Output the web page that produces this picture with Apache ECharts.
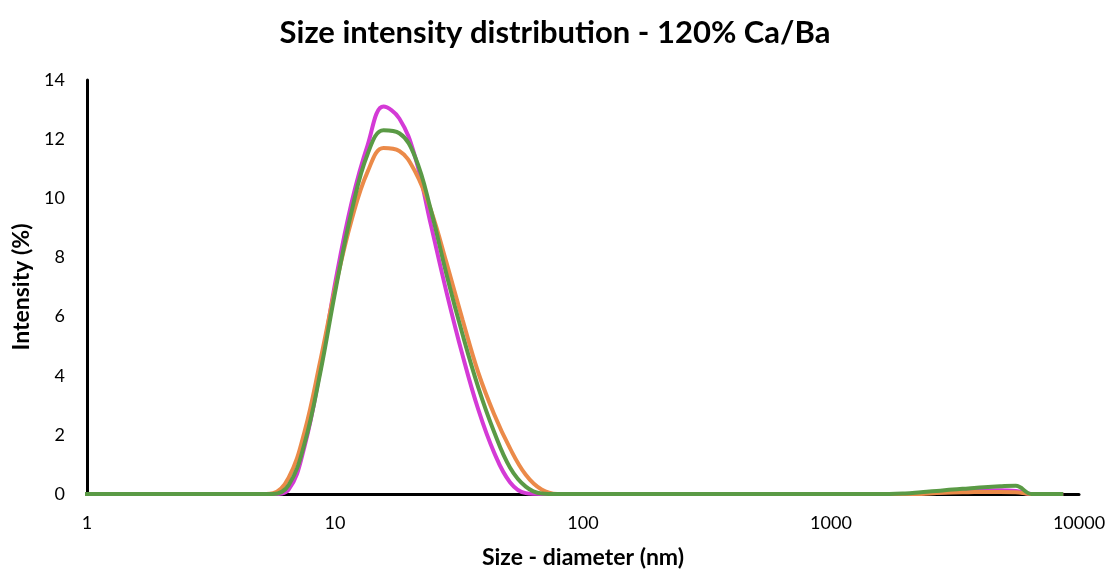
<!DOCTYPE html>
<html>
<head>
<meta charset="utf-8">
<script src="https://cdn.jsdelivr.net/npm/echarts@6/dist/echarts.min.js"></script>
<style>
html,body{margin:0;padding:0;background:#fff;}
#chart{width:1110px;height:569px;}
</style>
</head>
<body>
<div id="chart"></div>
<script>
// Size bins (nm)
const sizes = [0.9649, 1.117, 1.294, 1.499, 1.736, 2.01, 2.328, 2.696, 3.122, 3.615,
  4.187, 4.849, 5.615, 6.503, 7.531, 8.721, 10.1, 11.7, 13.54, 15.69,
  18.17, 21.04, 24.36, 28.21, 32.67, 37.84, 43.82, 50.75, 58.77, 68.06,
  78.82, 91.28, 105.7, 122.4, 141.8, 164.2, 190.1, 220.2, 255.0, 295.3,
  342.0, 396.1, 458.7, 531.2, 615.1, 712.4, 825.0, 955.4, 1106, 1281,
  1484, 1718, 1990, 2305, 2669, 3091, 3580, 4145, 4801, 5560,
  6439, 7456, 8635];

// Intensity (%) per bin
const magenta = [0, 0, 0, 0, 0, 0, 0, 0, 0, 0,
  0, 0, 0, 0.15, 1.6, 4.2, 7.3, 9.9, 11.8, 13.1,
  12.7, 11.4, 9.1, 6.8, 4.7, 2.85, 1.4, 0.4, 0.03, 0,
  0, 0, 0, 0, 0, 0, 0, 0, 0, 0,
  0, 0, 0, 0, 0, 0, 0, 0, 0, 0,
  0, 0, 0, 0.02, 0.05, 0.08, 0.1, 0.12, 0.13, 0.1,
  0, 0, 0];

const orange = [0, 0, 0, 0, 0, 0, 0, 0, 0, 0,
  0, 0, 0.03, 0.55, 2.1, 4.5, 7.1, 9.3, 10.9, 11.7,
  11.6, 10.9, 9.6, 7.8, 5.9, 4.1, 2.7, 1.55, 0.65, 0.15,
  0, 0, 0, 0, 0, 0, 0, 0, 0, 0,
  0, 0, 0, 0, 0, 0, 0, 0, 0, 0,
  0, 0, 0, 0, 0.03, 0.05, 0.06, 0.07, 0.07, 0.06,
  0, 0, 0];

const green = [0, 0, 0, 0, 0, 0, 0, 0, 0, 0,
  0, 0, 0, 0.3, 1.7, 4.1, 7.0, 9.6, 11.5, 12.3,
  12.2, 11.4, 9.6, 7.4, 5.4, 3.6, 2.1, 0.9, 0.25, 0.02,
  0, 0, 0, 0, 0, 0, 0, 0, 0, 0,
  0, 0, 0, 0, 0, 0, 0, 0, 0, 0,
  0, 0, 0.02, 0.06, 0.1, 0.15, 0.19, 0.23, 0.26, 0.28,
  0, 0, 0];

const yTicks = [0, 2, 4, 6, 8, 10, 12, 14];
const xTicks = [1, 10, 100, 1000, 10000];

const pairs = arr => sizes.map((s, i) => [s, arr[i]]);
const FONT = 'Lato';

const chart = echarts.init(document.getElementById('chart'), null, {renderer: 'canvas'});
const mkSeries = (name, data, color) => ({
  name, type: 'line', data: pairs(data), smooth: 0.4, showSymbol: false,
  lineStyle: {color, width: 4}, itemStyle: {color}, clip: true, animation: false
});
chart.setOption({
  animation: false,
  backgroundColor: '#ffffff',
  title: {
    text: 'Size intensity distribution - 120% Ca/Ba',
    left: 'center', top: 12,
    textStyle: {fontFamily: FONT, fontSize: 31, fontWeight: 'bold', color: '#000'}
  },
  grid: {left: 87, right: 31, top: 80, bottom: 75, containLabel: false, outerBoundsMode: 'none'},
  xAxis: {
    type: 'log', logBase: 10, min: 1, max: 10000,
    name: 'Size - diameter (nm)', nameLocation: 'middle', nameGap: 52,
    nameTextStyle: {fontFamily: FONT, fontSize: 23, fontWeight: 'bold', color: '#000'},
    axisLine: {show: true, onZero: false, lineStyle: {color: '#000', width: 3}},
    axisTick: {show: false},
    splitLine: {show: false},
    minorTick: {show: false},
    axisLabel: {fontFamily: FONT, fontSize: 18, color: '#000', margin: 20,
      formatter: v => {
        const r = Math.round(v);
        return xTicks.includes(r) ? String(r) : '';
      }}
  },
  yAxis: {
    type: 'value', min: 0, max: 14, interval: 2,
    name: 'Intensity (%)', nameLocation: 'middle', nameGap: 52, nameRotate: 90,
    nameTextStyle: {fontFamily: FONT, fontSize: 23, fontWeight: 'bold', color: '#000'},
    axisLine: {show: true, lineStyle: {color: '#000', width: 3}},
    axisTick: {show: false},
    splitLine: {show: false},
    axisLabel: {fontFamily: FONT, fontSize: 18, color: '#000', margin: 22,
      formatter: v => yTicks.includes(v) ? String(v) : ''}
  },
  series: [
    mkSeries('Magenta', magenta, '#D43AD6'),
    mkSeries('Orange', orange, '#EB8A49'),
    mkSeries('Green', green, '#5A9A45')
  ]
});
</script>
</body>
</html>
